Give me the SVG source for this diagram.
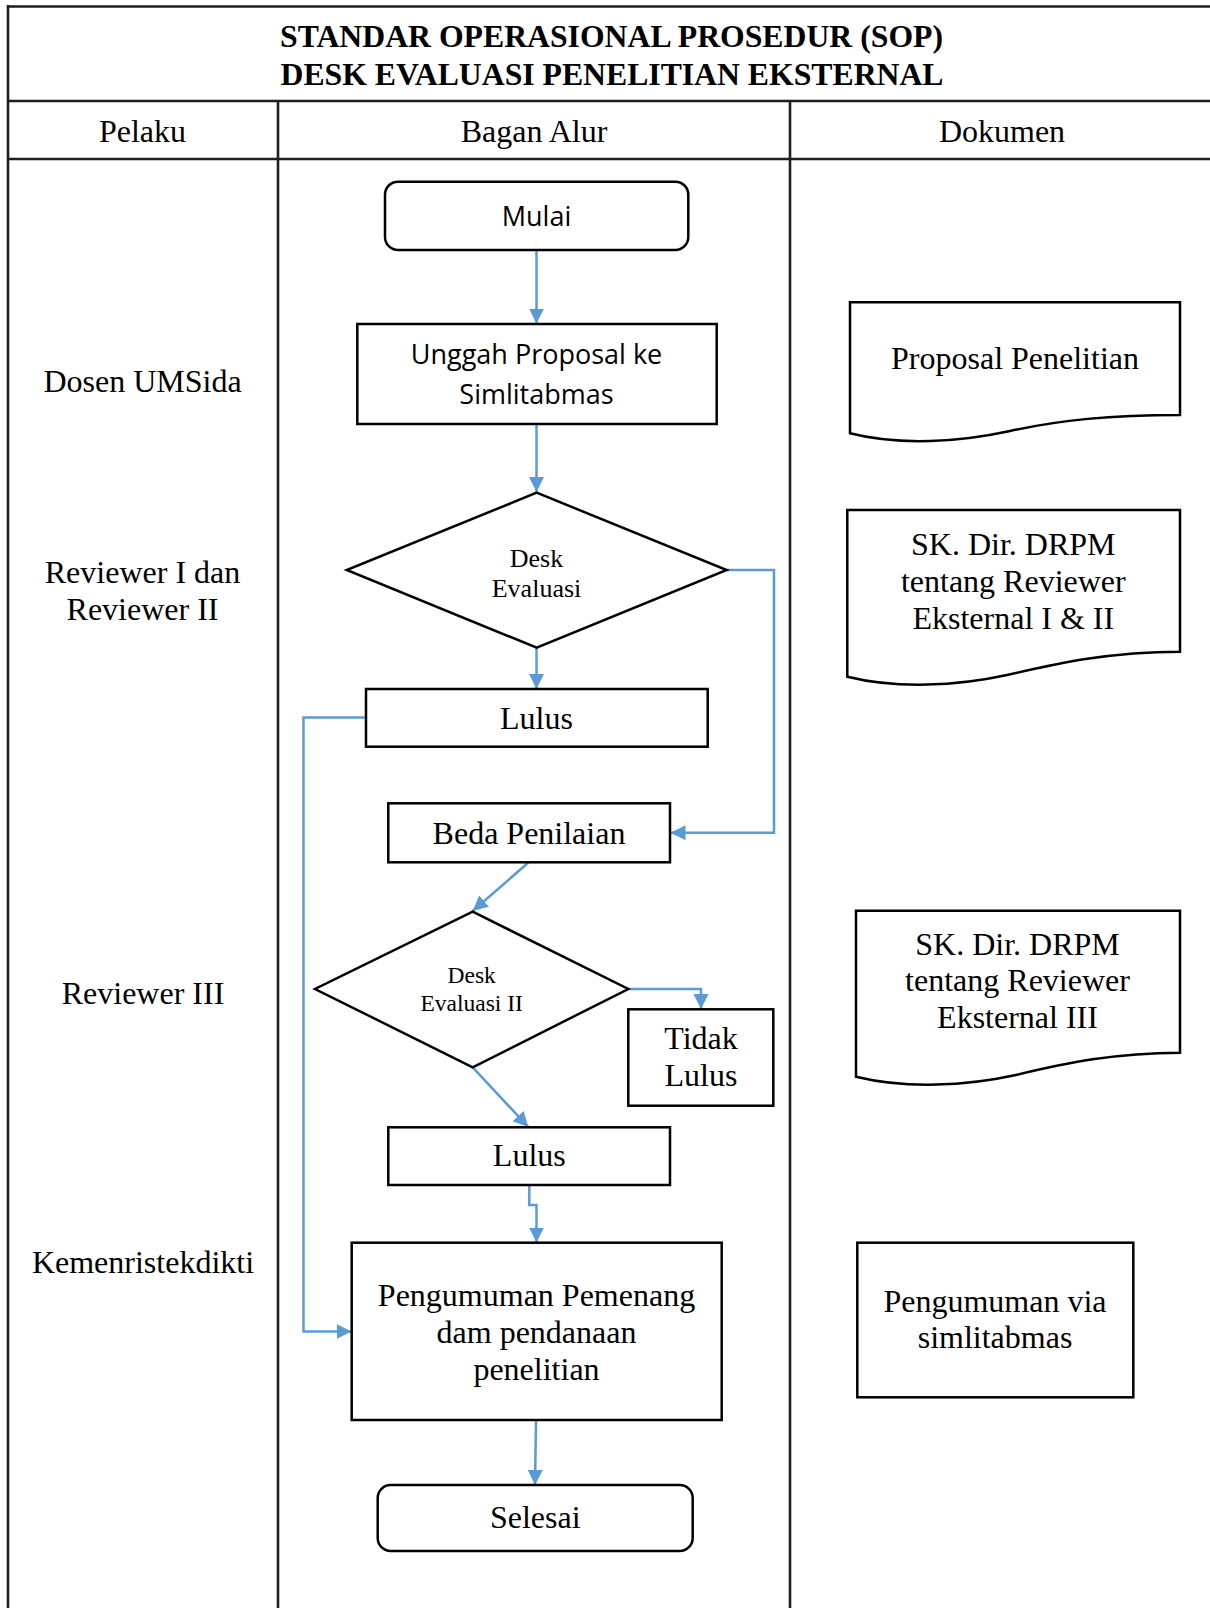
<svg xmlns="http://www.w3.org/2000/svg" width="1210" height="1608" viewBox="0 0 1210 1608">
<style>
.frame{stroke:#1e1e1e;stroke-width:2.6;fill:none}
.node{fill:#fff;stroke:#000;stroke-width:2.5}
.conn{fill:none;stroke:#5b9bd5;stroke-width:2.5}
.t{font-family:"Liberation Serif","Times New Roman",serif;fill:#000;text-anchor:middle}
.s{font-family:"Open Sans","Liberation Sans",sans-serif;fill:#000;text-anchor:middle;font-size:27px}
.f32{font-size:32px}
.title{font-weight:bold;font-size:32px}
</style>
<defs>
<marker id="arr" markerUnits="userSpaceOnUse" markerWidth="16" markerHeight="16" refX="15" refY="7.5" orient="auto">
<path d="M0,0 L15,7.5 L0,15 Z" fill="#5b9bd5"/>
</marker>
</defs>
<rect width="1210" height="1608" fill="#fff"/>
<g id="frame">
<line class="frame" x1="8" y1="6.5" x2="1210" y2="6.5"/>
<line class="frame" x1="8" y1="101" x2="1210" y2="101"/>
<line class="frame" x1="8" y1="159" x2="1210" y2="159"/>
<line class="frame" x1="8" y1="5" x2="8" y2="1608"/>
<line class="frame" x1="278" y1="101" x2="278" y2="1608"/>
<line class="frame" x1="790" y1="101" x2="790" y2="1608"/>
<text class="t title" x="611.5" y="47" textLength="663" lengthAdjust="spacingAndGlyphs">STANDAR OPERASIONAL PROSEDUR (SOP)</text>
<text class="t title" x="612" y="85" textLength="663" lengthAdjust="spacingAndGlyphs">DESK EVALUASI PENELITIAN EKSTERNAL</text>
<text class="t f32" x="142.5" y="141.5">Pelaku</text>
<text class="t f32" x="534" y="141.5">Bagan Alur</text>
<text class="t f32" x="1002" y="141.5">Dokumen</text>
</g>
<g id="pelaku">
<text class="t f32" x="142.5" y="391.5">Dosen UMSida</text>
<text class="t f32" x="142.5" y="583">Reviewer I dan</text>
<text class="t f32" x="142.5" y="620">Reviewer II</text>
<text class="t f32" x="143" y="1004">Reviewer III</text>
<text class="t f32" x="143" y="1273">Kemenristekdikti</text>
</g>
<g id="connectors">
<path class="conn" d="M536.5,250 V323.5" marker-end="url(#arr)"/>
<path class="conn" d="M536.5,424 V492" marker-end="url(#arr)"/>
<path class="conn" d="M536.5,648 V689" marker-end="url(#arr)"/>
<path class="conn" d="M727,570 H774 V832.7 H670.5" marker-end="url(#arr)"/>
<path class="conn" d="M366,717.5 H303.5 V1331.5 H351.5" marker-end="url(#arr)"/>
<path class="conn" d="M529,862 L472.7,911" marker-end="url(#arr)"/>
<path class="conn" d="M628.3,989 H701 V1009" marker-end="url(#arr)"/>
<path class="conn" d="M472.7,1067.3 L528.3,1127" marker-end="url(#arr)"/>
<path class="conn" d="M529.3,1185 V1205 H536.5 V1242.5" marker-end="url(#arr)"/>
<path class="conn" d="M536,1420 L535,1485" marker-end="url(#arr)"/>
</g>
<g id="mulai">
<rect class="node" x="385" y="181.7" width="303.3" height="68.3" rx="13"/>
<text class="s" x="536.5" y="226">Mulai</text>
</g>
<g id="unggah">
<rect class="node" x="357.3" y="324" width="359.4" height="100"/>
<text class="s" x="536.5" y="364">Unggah Proposal ke</text>
<text class="s" x="536.5" y="404">Simlitabmas</text>
</g>
<g id="desk1">
<polygon class="node" points="536.7,492.7 726.7,570 536.7,647.7 346.7,570"/>
<text class="t" font-size="26" x="536.5" y="566.5">Desk</text>
<text class="t" font-size="26" x="536.5" y="596.5">Evaluasi</text>
</g>
<g id="lulus1">
<rect class="node" x="366" y="689" width="341.7" height="57.7"/>
<text class="t f32" x="536.5" y="728.5">Lulus</text>
</g>
<g id="beda">
<rect class="node" x="388.3" y="803.3" width="281.7" height="59"/>
<text class="t f32" x="529" y="843.5">Beda Penilaian</text>
</g>
<g id="desk2">
<polygon class="node" points="472.7,911.7 628.3,989 472.7,1067.3 315,989"/>
<text class="t" font-size="23.5" x="471.7" y="982.5">Desk</text>
<text class="t" font-size="23.5" x="471.7" y="1010.5">Evaluasi II</text>
</g>
<g id="tidak">
<rect class="node" x="628.3" y="1009.3" width="145" height="96.4"/>
<text class="t f32" x="701" y="1049">Tidak</text>
<text class="t f32" x="701" y="1086">Lulus</text>
</g>
<g id="lulus2">
<rect class="node" x="388.3" y="1127.3" width="281.7" height="57.7"/>
<text class="t f32" x="529.3" y="1166">Lulus</text>
</g>
<g id="pengumuman">
<rect class="node" x="351.7" y="1242.7" width="370" height="177.3"/>
<text class="t f32" x="536.5" y="1306">Pengumuman Pemenang</text>
<text class="t f32" x="536.5" y="1342.7">dam pendanaan</text>
<text class="t f32" x="536.5" y="1380">penelitian</text>
</g>
<g id="selesai">
<rect class="node" x="377.7" y="1485" width="315" height="66" rx="13"/>
<text class="t f32" x="535.3" y="1528.3">Selesai</text>
</g>
<g id="doc1">
<path class="node" d="M850,302.3 H1180 V415 C1110,415 1060,420 1010,431 C960,442 900,446 850,433.3 Z"/>
<text class="t f32" x="1015" y="369.3">Proposal Penelitian</text>
</g>
<g id="doc2">
<path class="node" d="M847.3,510 H1180 V651.7 C1110,651.7 1060,663 1007,675 C957,686 897,689 847.3,676.7 Z"/>
<text class="t f32" x="1013.3" y="555">SK. Dir. DRPM</text>
<text class="t f32" x="1013.3" y="591.7">tentang Reviewer</text>
<text class="t f32" x="1013.3" y="629.3">Eksternal I &amp; II</text>
</g>
<g id="doc3">
<path class="node" d="M856,910.7 H1180 V1052.7 C1116,1052.7 1066,1063 1016,1075 C966,1086 906,1089 856,1076.7 Z"/>
<text class="t f32" x="1017.5" y="955">SK. Dir. DRPM</text>
<text class="t f32" x="1017.5" y="991">tentang Reviewer</text>
<text class="t f32" x="1017.5" y="1028.3">Eksternal III</text>
</g>
<g id="doc4">
<rect class="node" x="857.3" y="1242.7" width="276" height="154.6"/>
<text class="t f32" x="995" y="1311.7">Pengumuman via</text>
<text class="t f32" x="995" y="1348.3">simlitabmas</text>
</g>
</svg>
